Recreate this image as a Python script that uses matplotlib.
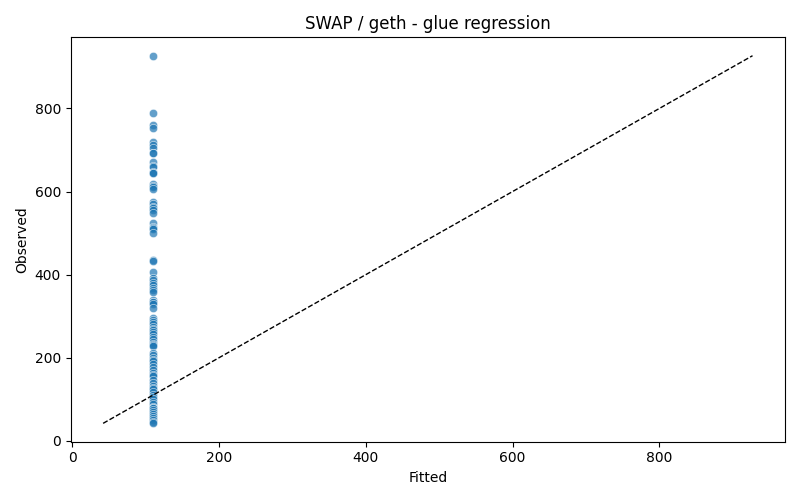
import numpy as np
import pandas as pd
import matplotlib
matplotlib.use("Agg")
import matplotlib.pyplot as plt
import seaborn as sns

# fitted value is constant (glue model predicts a single level)
fitted_value = 110.0
observed = [
    927, 788, 760, 754, 720, 713, 706, 694, 694, 670, 662, 660, 648, 645, 645,
    618, 614, 610, 605, 576, 569, 563, 561, 556, 549, 525, 515, 512, 510, 501,
    436, 432, 407, 393, 388, 381, 375, 369, 363, 357, 340, 335, 333, 330, 320,
    296, 290, 287, 281, 275, 270, 266, 263, 257, 251, 245, 239, 232, 230, 227,
    212, 207, 200, 195, 193, 185, 178, 170, 164, 158, 155, 147, 140, 133, 128,
    125, 118, 111, 105, 100, 94, 88, 82, 80, 80, 75, 70, 64, 60, 55, 50, 46, 43,
]
fitted = [fitted_value] * len(observed)

df = pd.DataFrame({"Fitted": fitted, "Observed": observed})

fig, ax = plt.subplots(figsize=(8, 5), dpi=100)
sns.scatterplot(data=df, x="Fitted", y="Observed", alpha=0.7, ax=ax)

lo = min(df["Observed"].min(), df["Fitted"].min())
hi = max(df["Observed"].max(), df["Fitted"].max())
lo = min(df["Observed"].min(), 42)
ax.plot([lo, hi], [lo, hi], "k--", lw=1)

ax.set_title("SWAP / geth - glue regression")
ax.set_xlabel("Fitted")
ax.set_ylabel("Observed")

plt.tight_layout()
plt.savefig("out.png")
